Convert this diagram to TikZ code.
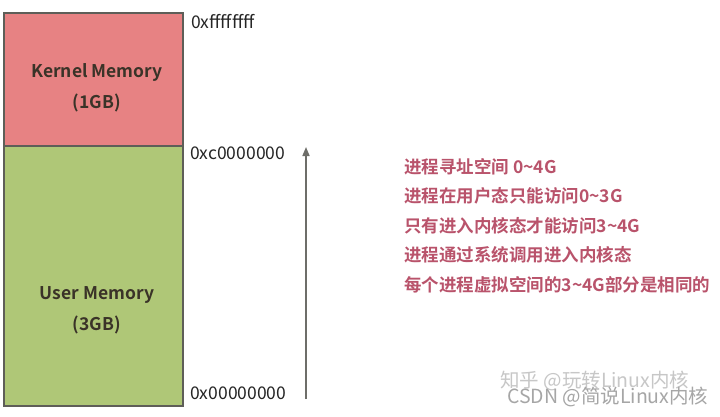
\documentclass[tikz,border=0pt]{standalone}
\usepackage{fontspec}
\setmainfont{Noto Sans CJK SC}
\newfontfamily\cjkb{Noto Sans CJK SC Bold}
\usetikzlibrary{arrows.meta}
\definecolor{kern}{HTML}{E78283}
\definecolor{usr}{HTML}{AFC777}
\definecolor{frame}{HTML}{5E5E58}
\definecolor{note}{HTML}{B9536B}
\definecolor{boxtxt}{HTML}{3A3328}
\begin{document}
\begin{tikzpicture}[x=1pt,y=-1pt,
  region/.style={draw=frame,line width=2pt,inner sep=0pt},
  boxlabel/.style={font=\cjkb\fontsize{17.5}{31}\selectfont,text=boxtxt,align=center},
  addr/.style={anchor=west,font=\fontsize{17.5}{18}\selectfont,text=black!85,inner sep=0pt},
  notetxt/.style={anchor=west,font=\cjkb\fontsize{17.5}{20}\selectfont,text=note,inner sep=0pt},
  wm/.style={anchor=west,font=\fontsize{19.5}{20}\selectfont,text=black!35,inner sep=0pt}]
\useasboundingbox (0,0) rectangle (720,416);
\fill[white] (0,0) rectangle (720,416);
% regions
\filldraw[region,fill=kern] (4,13) rectangle (183,146);
\filldraw[region,fill=usr] (4,146) rectangle (183,406);
\node[boxlabel] (kl) at (97,88) {Kernel Memory\\(1GB)};
\node[boxlabel] (ul) at (97,310) {User Memory\\(3GB)};
% addresses
\node[addr] (a1) at (191,22) {0xffffffff};
\node[addr] (a2) at (190,153) {0xc0000000};
\node[addr] (a3) at (190,393) {0x00000000};
% arrow
\coordinate (s) at (306,399);
\coordinate (e) at (306,147);
\draw[frame!90,line width=1.6pt,-{Triangle[length=9pt,width=7pt]}] (s) -- (e);
% notes
\node[notetxt] (n1) at (404,167) {进程寻址空间 0\textasciitilde4G};
\node[notetxt] (n2) at (404,196) {进程在用户态只能访问0\textasciitilde3G};
\node[notetxt] (n3) at (404,226) {只有进入内核态才能访问3\textasciitilde4G};
\node[notetxt] (n4) at (404,255) {进程通过系统调用进入内核态};
\node[notetxt] (n5) at (404,285) {每个进程虚拟空间的3\textasciitilde4G部分是相同的};
% watermarks
\node[wm,text=black!22] (w1) at (500,381) {知乎 @玩转Linux内核};
\node[wm] (w2) at (507,397) {CSDN @简说Linux内核};
\end{tikzpicture}
\end{document}
